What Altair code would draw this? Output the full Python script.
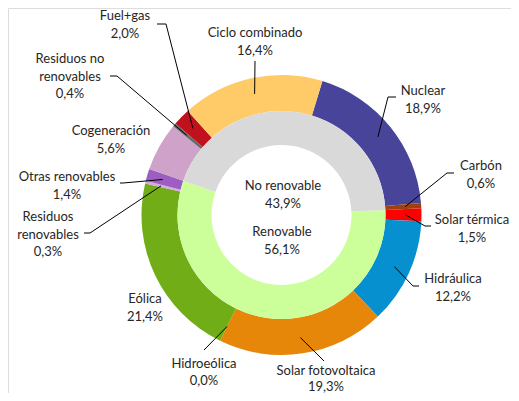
import math
import altair as alt
import pandas as pd

# ---------------- data ----------------
categories = ["Nuclear", "Carbón", "Solar térmica", "Hidráulica", "Solar fotovoltaica",
              "Hidroeólica", "Eólica", "Residuos renovables", "Otras renovables",
              "Cogeneración", "Residuos no renovables", "Fuel+gas", "Ciclo combinado"]
values = [18.9, 0.6, 1.5, 12.2, 19.3, 0.0, 21.4, 0.3, 1.4, 5.6, 0.4, 2.0, 16.4]
is_renewable = [False, False, True, True, True, True, True, True, True,
                False, False, False, False]
display_names = ["Nuclear", "Carbón", "Solar térmica", "Hidráulica", "Solar fotovoltaica",
                 "Hidroeólica", "Eólica", "Residuos|renovables", "Otras renovables",
                 "Cogeneración", "Residuos no|renovables", "Fuel+gas", "Ciclo combinado"]
group_names = ["Renovable", "No renovable"]
group_values = [56.1, 43.9]

# ---------------- styles ----------------
colors = ["#47449a", "#a0400e", "#ff0000", "#0790d0", "#e6870a", "#2f6eb0", "#70ad17",
          "#d8a8e4", "#9c5ec1", "#cfa2c9", "#6a6a6a", "#c0111c", "#ffcb69"]
group_colors = ["#ccff99", "#d9d9d9"]

W, H = 503, 385
OFF_X, OFF_Y = 8, 10
CX, CY = 281.5 - OFF_X, 217 - OFF_Y
R_OUT, R_MID, R_IN = 140, 104, 70
START_DEG = 17.0
LEADER_R = 124
LINE_H = 17.5
FONT = "Lato"
FS = 13
TXT = "#262626"

# label layout (page coordinates: center x, first-line y, line gap)
label_pos = {
    "Nuclear": (423, 93, LINE_H), "Carbón": (481, 168, LINE_H),
    "Solar térmica": (472, 222, LINE_H), "Hidráulica": (453, 281, LINE_H),
    "Solar fotovoltaica": (326, 373, 16), "Hidroeólica": (204, 366, 16.5),
    "Eólica": (145, 301, LINE_H), "Residuos renovables": (48, 219, LINE_H),
    "Otras renovables": (67, 179, LINE_H), "Cogeneración": (111, 133, LINE_H),
    "Residuos no renovables": (70, 61, LINE_H), "Fuel+gas": (125, 18, LINE_H),
    "Ciclo combinado": (255, 35, LINE_H),
}
# leader elbows (page coordinates): elbow point, end point
leaders = {
    "Nuclear": [(388, 99), (396, 99)],
    "Carbón": [(447, 175), (454, 175)],
    "Solar térmica": [(425, 228), (431, 228)],
    "Hidráulica": [(413, 288), (419, 288)],
    "Solar fotovoltaica": [(324, 363)],
    "Hidroeólica": [(204, 352)],
    "Residuos renovables": [(90, 235), (84, 235)],
    "Otras renovables": [(123, 185), (120, 185)],
    "Residuos no renovables": [(117, 78), (110, 78)],
    "Fuel+gas": [(166, 26), (157, 26)],
    "Ciclo combinado": [(255, 63)],
}
center_pos = {"No renovable": (283, 188), "Renovable": (282, 234)}


def pct(v):
    return f"{v:.1f}".replace(".", ",") + "%"


total = sum(values)
a0 = math.radians(START_DEG)

outer = pd.DataFrame({"cat": categories, "value": values, "color": colors,
                      "idx": list(range(len(categories)))})

# inner ring starts where the first renewable slice starts
first_ren = is_renewable.index(True)
inner_start = a0 + 2 * math.pi * sum(values[:first_ren]) / total
inner = pd.DataFrame({"cat": group_names, "value": group_values, "color": group_colors,
                      "idx": [0, 1]})

# text rows
text_rows = []
for cat, disp, v in zip(categories, display_names, values):
    lx, ly, gap = label_pos[cat]
    lines = disp.split("|") + [pct(v)]
    for i, t in enumerate(lines):
        text_rows.append({"x": lx - OFF_X, "y": ly - OFF_Y + i * gap, "t": t})
for g, v in zip(group_names, group_values):
    lx, ly = center_pos[g]
    for i, t in enumerate([g, pct(v)]):
        text_rows.append({"x": lx - OFF_X, "y": ly - OFF_Y + i * LINE_H, "t": t})
texts = pd.DataFrame(text_rows)

# leader lines: start at slice mid-angle
line_rows = []
cum = 0.0
for cat, v in zip(categories, values):
    mid = a0 + 2 * math.pi * (cum + v / 2) / total
    cum += v
    if cat not in leaders:
        continue
    sx = CX + LEADER_R * math.sin(mid)
    sy = CY - LEADER_R * math.cos(mid)
    pts = [(sx, sy)] + [(px - OFF_X, py - OFF_Y) for px, py in leaders[cat]]
    for k, (px, py) in enumerate(pts):
        line_rows.append({"cat": cat, "k": k, "x": px, "y": py})
lines_df = pd.DataFrame(line_rows)

xs = alt.Scale(domain=[0, W], range=[0, W])
ys = alt.Scale(domain=[0, H], range=[0, H])

outer_arc = alt.Chart(outer).mark_arc(radius=R_OUT, radius2=R_MID).encode(
    theta=alt.Theta("value:Q", stack=True,
                    scale=alt.Scale(range=[a0, a0 + 2 * math.pi])),
    order=alt.Order("idx:Q"),
    color=alt.Color("color:N", scale=None),
    x=alt.value(CX), y=alt.value(CY),
)

inner_arc = alt.Chart(inner).mark_arc(radius=R_MID, radius2=R_IN).encode(
    theta=alt.Theta("value:Q", stack=True,
                    scale=alt.Scale(range=[inner_start, inner_start + 2 * math.pi])),
    order=alt.Order("idx:Q"),
    color=alt.Color("color:N", scale=None),
    x=alt.value(CX), y=alt.value(CY),
)

leader_lines = alt.Chart(lines_df).mark_line(color="#000000", strokeWidth=1).encode(
    x=alt.X("x:Q", scale=xs, axis=None),
    y=alt.Y("y:Q", scale=ys, axis=None),
    detail="cat:N",
    order="k:Q",
)

labels = alt.Chart(texts).mark_text(font=FONT, fontSize=FS, color=TXT,
                                    align="center", baseline="middle").encode(
    x=alt.X("x:Q", scale=xs, axis=None),
    y=alt.Y("y:Q", scale=ys, axis=None),
    text="t:N",
)

chart = alt.layer(outer_arc, inner_arc, leader_lines, labels).resolve_scale(
    theta="independent"
).properties(
    width=W, height=H, autosize=alt.AutoSizeParams(type="none"), padding=0
).configure_view(stroke=None).configure(background="white")

chart.save("out.html", embed_options={"renderer": "svg", "actions": False})
